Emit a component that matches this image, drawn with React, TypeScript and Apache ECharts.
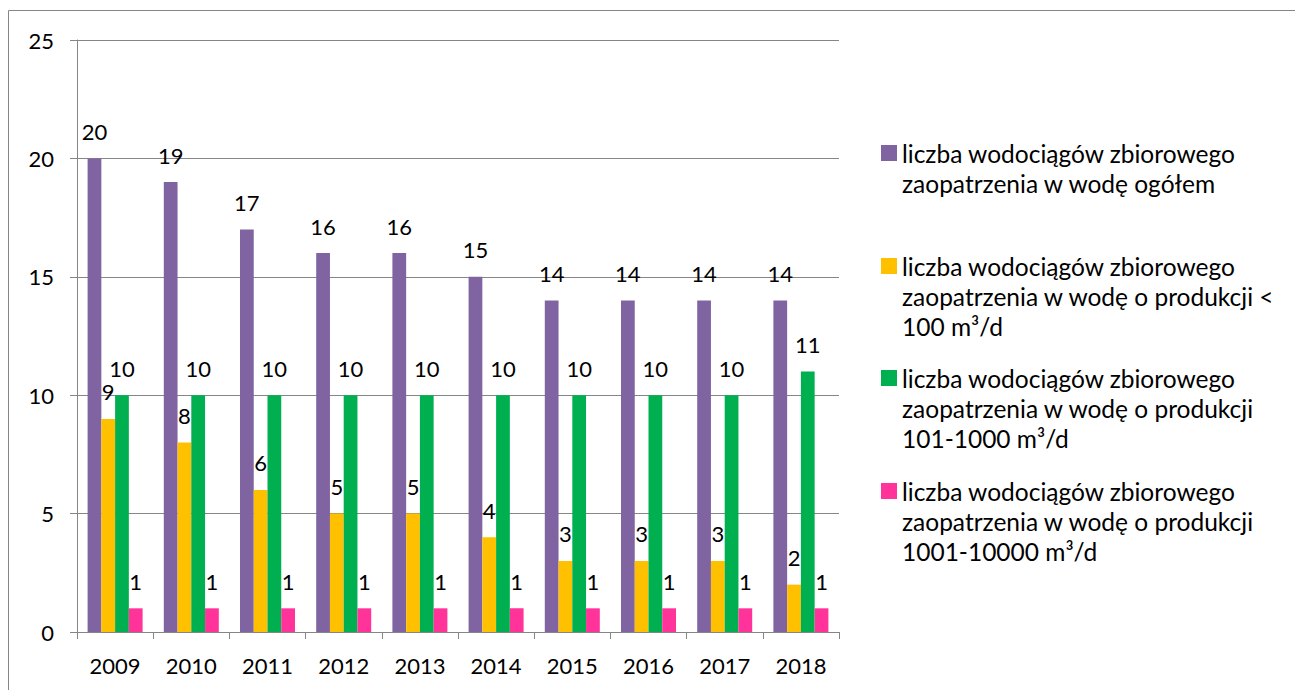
import React, { useEffect, useRef } from "react";
import * as echarts from "echarts";

const years = ["2009", "2010", "2011", "2012", "2013", "2014", "2015", "2016", "2017", "2018"];
const seriesNames = [
  "liczba wodociągów zbiorowego zaopatrzenia w wodę ogółem",
  "liczba wodociągów zbiorowego zaopatrzenia w wodę o produkcji < 100 m³/d",
  "liczba wodociągów zbiorowego zaopatrzenia w wodę o produkcji 101-1000 m³/d",
  "liczba wodociągów zbiorowego zaopatrzenia w wodę o produkcji 1001-10000 m³/d",
];
const legendLines = [
  ["liczba wodociągów zbiorowego", "zaopatrzenia w wodę ogółem"],
  ["liczba wodociągów zbiorowego", "zaopatrzenia w wodę o produkcji <", "100 m³/d"],
  ["liczba wodociągów zbiorowego", "zaopatrzenia w wodę o produkcji", "101-1000 m³/d"],
  ["liczba wodociągów zbiorowego", "zaopatrzenia w wodę o produkcji", "1001-10000 m³/d"],
];
const totalCount = [20, 19, 17, 16, 16, 15, 14, 14, 14, 14];
const smallCount = [9, 8, 6, 5, 5, 4, 3, 3, 3, 2];
const mediumCount = [10, 10, 10, 10, 10, 10, 10, 10, 10, 11];
const largeCount = [1, 1, 1, 1, 1, 1, 1, 1, 1, 1];
const colors = ["#8064A2", "#FFC000", "#00B050", "#FF3399"];
const yTicks = [0, 5, 10, 15, 20, 25];

const FONT = "Lato";
const FS = 22;
const LEGEND_FS = 24.5;
const GRAY = "#868686";

export default function App() {
  const ref = useRef<HTMLDivElement>(null);
  useEffect(() => {
    if (!ref.current) return;
    const chart = echarts.init(ref.current, undefined, { renderer: "svg" });
    const data = [totalCount, smallCount, mediumCount, largeCount];
    const legendCenters = [153, 266, 378, 491];
    const legends = seriesNames.map((name, i) => {
      const L = legendLines[i].length;
      return {
        show: true,
        orient: "vertical" as const,
        left: 881,
        top: legendCenters[i] - (2 * L - 1) * 15,
        padding: 0,
        itemWidth: 16,
        itemHeight: 16,
        icon: "rect",
        selectedMode: false,
        data: [name],
        formatter: () => "\n".repeat(L - 1) + legendLines[i].join("\n"),
        textStyle: { fontFamily: FONT, fontSize: LEGEND_FS, color: "#000", lineHeight: 30 },
      };
    });
    chart.setOption({
      animation: false,
      backgroundColor: "#fff",
      textStyle: { fontFamily: FONT },
      graphic: [
        {
          type: "rect",
          shape: { x: 8.5, y: 10.5, width: 1400, height: 800 },
          style: { fill: "none", stroke: GRAY, lineWidth: 1 },
          silent: true,
        },
      ],
      legend: legends,
      grid: { left: 77, top: 40, width: 762, height: 592 },
      xAxis: {
        type: "category",
        data: years,
        axisLine: { show: true, lineStyle: { color: GRAY, width: 1 } },
        axisTick: { show: true, length: 7, alignWithLabel: false, lineStyle: { color: GRAY } },
        axisLabel: { fontFamily: FONT, fontSize: FS, color: "#000", margin: 22 },
      },
      yAxis: {
        type: "value",
        min: yTicks[0],
        max: yTicks[yTicks.length - 1],
        interval: 5,
        axisLine: { show: true, lineStyle: { color: GRAY, width: 1 } },
        axisTick: { show: true, length: 7, lineStyle: { color: GRAY } },
        splitLine: { show: true, lineStyle: { color: GRAY, width: 1 } },
        axisLabel: { fontFamily: FONT, fontSize: FS, color: "#000", margin: 23 },
      },
      series: seriesNames.map((name, i) => ({
        type: "bar",
        name,
        data: data[i],
        barWidth: 13.75,
        barGap: "0%",
        itemStyle: { color: colors[i] },
        label: {
          show: true,
          position: "top",
          distance: 16,
          fontFamily: FONT,
          fontSize: FS,
          color: "#000",
        },
      })),
    });
    return () => chart.dispose();
  }, []);
  return (
    <div
      ref={ref}
      style={{ position: "fixed", left: 0, top: 0, width: 1295, height: 690, background: "#fff" }}
    />
  );
}
